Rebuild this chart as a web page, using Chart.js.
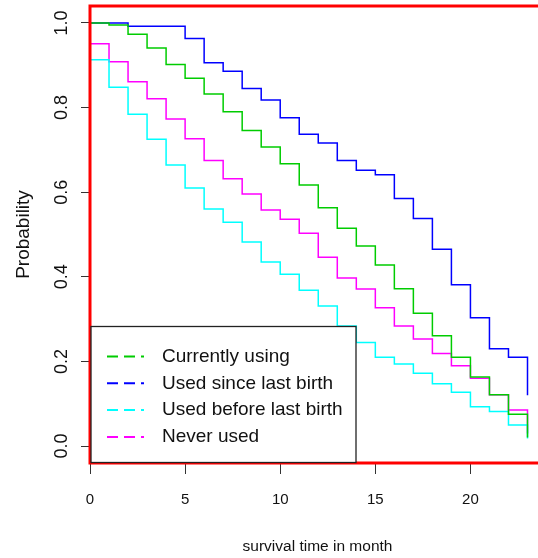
<!DOCTYPE html>
<html>
<head>
<meta charset="utf-8">
<title>Survival by contraceptive use</title>
<script src="https://cdn.jsdelivr.net/npm/chart.js@4/dist/chart.umd.min.js"></script>
<style>
    html, body { margin: 0; padding: 0; background: #fff; overflow: hidden; }
    #survChart { display: block; }
</style>
</head>
<body>
<canvas id="survChart" width="560" height="558"></canvas>
<script>
// Kaplan-Meier estimates, one value per month (0..23)
const months = [0, 1, 2, 3, 4, 5, 6, 7, 8, 9, 10, 11, 12, 13, 14, 15, 16, 17, 18, 19, 20, 21, 22, 23];

const currentlyUsing = [1.000, 0.995, 0.973, 0.941, 0.902, 0.869, 0.832, 0.790, 0.746, 0.707, 0.667, 0.617,
    0.563, 0.515, 0.473, 0.428, 0.372, 0.314, 0.261, 0.210, 0.163, 0.121, 0.075, 0.020];
const usedSinceLastBirth = [1.000, 1.000, 0.992, 0.992, 0.992, 0.963, 0.906, 0.886, 0.845, 0.818, 0.776, 0.737,
    0.716, 0.675, 0.652, 0.641, 0.585, 0.538, 0.465, 0.381, 0.303, 0.230, 0.210, 0.120];
const usedBeforeLastBirth = [0.913, 0.848, 0.784, 0.725, 0.664, 0.610, 0.560, 0.529, 0.482, 0.435, 0.406, 0.368,
    0.331, 0.284, 0.245, 0.210, 0.194, 0.172, 0.147, 0.127, 0.093, 0.082, 0.050, 0.018];
const neverUsed = [0.951, 0.908, 0.861, 0.821, 0.773, 0.726, 0.675, 0.632, 0.596, 0.558, 0.536, 0.503,
    0.446, 0.397, 0.371, 0.327, 0.284, 0.253, 0.219, 0.190, 0.160, 0.121, 0.085, 0.030];

const seriesLabels = ['Currently using', 'Used since last birth', 'Used before last birth', 'Never used'];
const seriesColors = ['#00CC00', '#0000FF', '#00FFFF', '#FF00FF'];

const xTicks = [0, 5, 10, 15, 20];
const yTicks = [0.0, 0.2, 0.4, 0.6, 0.8, 1.0];

const FONT = '"Liberation Sans", Arial, sans-serif';

function toPoints(values) {
    return months.map((m, i) => ({ x: m, y: values[i] }));
}

function makeDataset(values, idx) {
    return {
        label: seriesLabels[idx],
        data: toPoints(values),
        borderColor: seriesColors[idx],
        backgroundColor: seriesColors[idx],
        borderWidth: 1.5,
        pointRadius: 0,
        stepped: true,
        fill: false
    };
}

// Red frame around the plotting region
const frameBox = {
    id: 'frameBox',
    afterDatasetsDraw(chart) {
        const { ctx, chartArea: a } = chart;
        ctx.save();
        ctx.strokeStyle = '#FF0000';
        ctx.lineWidth = 3;
        ctx.strokeRect(a.left, a.top, a.right - a.left, a.bottom - a.top);
        ctx.restore();
    }
};

// Key in the lower left corner, drawn on top of the curves
const curveKey = {
    id: 'curveKey',
    afterDatasetsDraw(chart) {
        const { ctx, chartArea: a } = chart;
        const w = 265, h = 136;
        const x0 = a.left + 1, y0 = a.bottom - 0.5 - h;
        ctx.save();
        ctx.fillStyle = '#FFFFFF';
        ctx.fillRect(x0, y0, w, h);
        ctx.setLineDash([]);
        ctx.strokeStyle = '#222';
        ctx.lineWidth = 1.3;
        ctx.strokeRect(x0, y0, w, h);
        ctx.font = '19px ' + FONT;
        ctx.textBaseline = 'middle';
        ctx.textAlign = 'left';
        chart.data.datasets.forEach((ds, i) => {
            const y = y0 + 30 + i * 26.8;
            ctx.setLineDash([11, 6]);
            ctx.lineWidth = 2;
            ctx.strokeStyle = ds.borderColor;
            ctx.beginPath();
            ctx.moveTo(x0 + 16, y);
            ctx.lineTo(x0 + 53, y);
            ctx.stroke();
            ctx.setLineDash([]);
            ctx.fillStyle = '#111';
            ctx.fillText(ds.label, x0 + 71, y);
        });
        ctx.restore();
    }
};

const ctx = document.getElementById('survChart').getContext('2d');
const chart = new Chart(ctx, {
    type: 'line',
    data: {
        datasets: [
            makeDataset(currentlyUsing, 0),
            makeDataset(usedSinceLastBirth, 1),
            makeDataset(usedBeforeLastBirth, 2),
            makeDataset(neverUsed, 3)
        ]
    },
    options: {
        responsive: false,
        animation: false,
        devicePixelRatio: 1,
        layout: { padding: { top: 6, right: 15, left: 0, bottom: 0 } },
        plugins: {
            legend: { display: false },
            tooltip: { enabled: false }
        },
        scales: {
            x: {
                type: 'linear',
                min: 0,
                max: 23.92,
                afterBuildTicks: s => { s.ticks = xTicks.map(v => ({ value: v })); },
                afterFit: s => { s.height = 95; s.paddingLeft = 0; s.paddingRight = 0; },
                border: { display: false },
                grid: { drawOnChartArea: false, drawTicks: true, tickLength: 11, tickColor: '#333' },
                ticks: {
                    padding: 17,
                    color: '#111',
                    font: { family: FONT, size: 15 },
                    maxRotation: 0,
                    callback: v => String(v)
                },
                title: {
                    display: true,
                    text: 'survival time in month',
                    color: '#111',
                    font: { family: FONT, size: 15.5 },
                    padding: { top: 0, bottom: 2 }
                }
            },
            y: {
                type: 'linear',
                min: -0.04,
                max: 1.04,
                afterBuildTicks: s => { s.ticks = yTicks.map(v => ({ value: v })); },
                afterFit: s => { s.width = 90; s.paddingTop = 0; s.paddingBottom = 0; },
                border: { display: false },
                grid: { drawOnChartArea: false, drawTicks: true, tickLength: 9, tickColor: '#333' },
                ticks: {
                    padding: 6.5,
                    minRotation: 90,
                    maxRotation: 90,
                    crossAlign: 'center',
                    color: '#111',
                    font: { family: FONT, size: 18 },
                    callback: v => Number(v).toFixed(1)
                },
                title: {
                    display: true,
                    text: 'Probability',
                    color: '#111',
                    font: { family: FONT, size: 19 },
                    padding: { top: 12, bottom: 0 }
                }
            }
        }
    },
    plugins: [frameBox, curveKey]
});
</script>
</body>
</html>
